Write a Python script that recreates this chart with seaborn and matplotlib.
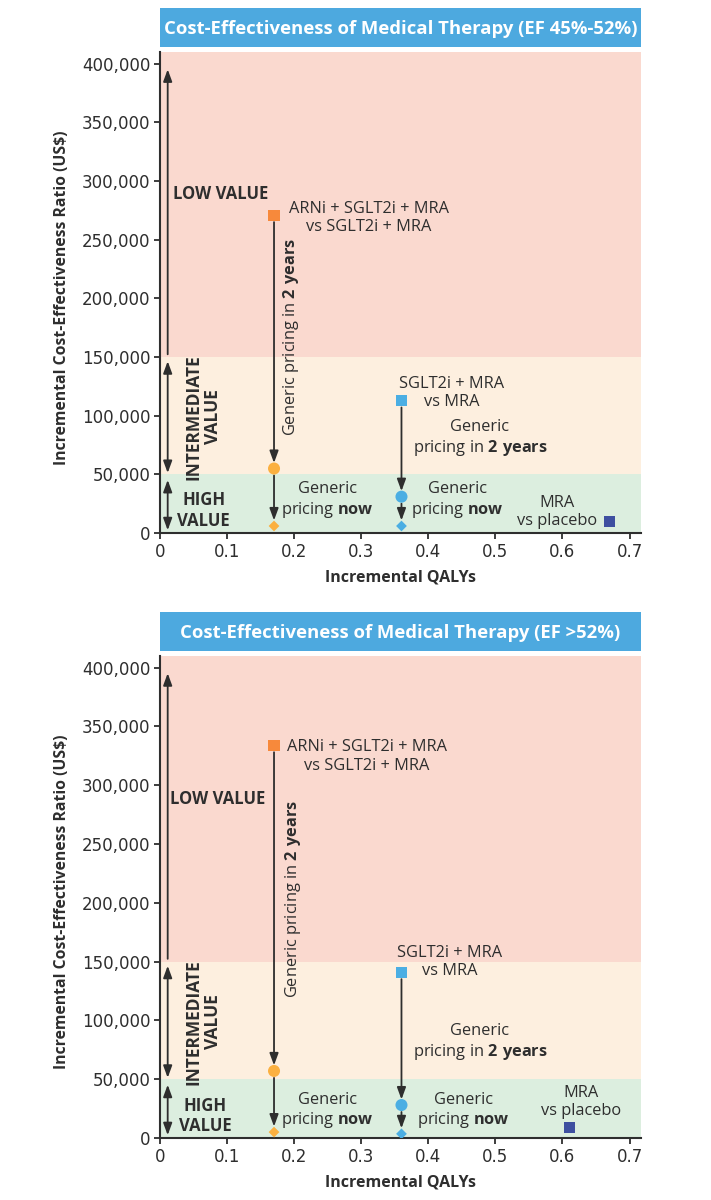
import numpy as np
import pandas as pd
import seaborn as sns
import matplotlib.pyplot as plt
from matplotlib.ticker import FuncFormatter

# panel titles
titles = ['Cost-Effectiveness of Medical Therapy (EF 45%-52%)',
          'Cost-Effectiveness of Medical Therapy (EF >52%)']

# therapies: ARNi + SGLT2i + MRA, SGLT2i + MRA, MRA
qaly_mid = [0.17, 0.36, 0.67]
icer_mid_brand = [271000, 113000, 10000]
icer_mid_2yr = [55000, 31000]
icer_mid_now = [6000, 6000]

qaly_pres = [0.17, 0.36, 0.61]
icer_pres_brand = [334000, 141000, 9000]
icer_pres_2yr = [57000, 28000]
icer_pres_now = [5000, 3500]

band_edges = [0, 50000, 150000, 410000]
band_colors = ['#dceedf', '#fdefdf', '#fad9cf']
y_ticks = [0, 50000, 100000, 150000, 200000, 250000, 300000, 350000, 400000]
x_ticks = [0, 0.1, 0.2, 0.3, 0.4, 0.5, 0.6, 0.7]

brand_colors = ['#f7893b', '#4baee3', '#3e4fa0']
generic_colors = ['#fbb040', '#4baee3']

sns.set_style('ticks')
plt.rcParams['font.family'] = ['Open Sans', 'DejaVu Sans']
plt.rcParams['mathtext.fontset'] = 'custom'
plt.rcParams['mathtext.rm'] = 'Open Sans'
plt.rcParams['mathtext.bf'] = 'Open Sans:bold'

ink = '#2e2e2e'
arrow_kw = dict(arrowstyle='-|>,head_length=0.6,head_width=0.22', color=ink, lw=1.3,
                mutation_scale=12)
dbl_kw = dict(arrowstyle='<|-|>,head_length=0.6,head_width=0.22', color=ink, lw=1.3,
              mutation_scale=12)

fig = plt.figure(figsize=(7.11, 12), dpi=100, facecolor='white')


def draw_panel(ax, qaly, brand, gen2, now, labels):
    for lo, hi, c in zip(band_edges[:-1], band_edges[1:], band_colors):
        ax.axhspan(lo, hi, color=c, lw=0, zorder=0)

    # value band arrows
    xa = 0.0115
    ax.annotate('', xy=(xa, 400000), xytext=(xa, 150000),
                arrowprops=dict(shrinkA=2, shrinkB=4, **arrow_kw), zorder=3)
    ax.annotate('', xy=(xa, 50000), xytext=(xa, 150000),
                arrowprops=dict(shrinkA=3, shrinkB=1, **dbl_kw), zorder=3)
    ax.annotate('', xy=(xa, 0), xytext=(xa, 50000),
                arrowprops=dict(shrinkA=4, shrinkB=2, **dbl_kw), zorder=3)

    # price drop arrows
    for i in range(2):
        ax.annotate('', xy=(qaly[i], gen2[i]), xytext=(qaly[i], brand[i]),
                    arrowprops=dict(shrinkA=5, shrinkB=4, **arrow_kw), zorder=3)
        ax.annotate('', xy=(qaly[i], now[i]), xytext=(qaly[i], gen2[i]),
                    arrowprops=dict(shrinkA=5, shrinkB=4, **arrow_kw), zorder=3)

    df_brand = pd.DataFrame({'qaly': qaly, 'icer': brand})
    df_gen = pd.DataFrame({'qaly': qaly[:2], 'icer2': gen2, 'icer0': now})
    sns.scatterplot(data=df_brand, x='qaly', y='icer', marker='s', s=64,
                    hue=df_brand.index.astype(str), palette=brand_colors,
                    edgecolor='none', legend=False, ax=ax, zorder=4)
    sns.scatterplot(data=df_gen, x='qaly', y='icer2', marker='o', s=75,
                    hue=df_gen.index.astype(str), palette=generic_colors,
                    edgecolor='none', legend=False, ax=ax, zorder=4)
    sns.scatterplot(data=df_gen, x='qaly', y='icer0', marker='D', s=30,
                    hue=df_gen.index.astype(str), palette=generic_colors,
                    edgecolor='none', legend=False, ax=ax, zorder=4)

    for txt, x, y, kw in labels:
        ax.text(x, y, txt, color=ink, zorder=5, **kw)

    ax.set_xlim(0, 0.717)
    ax.set_ylim(0, 410000)
    ax.set_xticks(x_ticks)
    ax.set_yticks(y_ticks)
    ax.xaxis.set_major_formatter(FuncFormatter(lambda v, p: '0' if v == 0 else f'{v:.1f}'))
    ax.yaxis.set_major_formatter(FuncFormatter(lambda v, p: f'{v:,.0f}'))
    for lab in ax.get_xticklabels() + ax.get_yticklabels():
        lab.set_fontfamily('DejaVu Sans')
        lab.set_fontsize(12)
        lab.set_color(ink)
    ax.tick_params(length=4, width=1.3, color=ink, pad=3)
    sns.despine(ax=ax)
    for s in ['left', 'bottom']:
        ax.spines[s].set_color(ink)
        ax.spines[s].set_linewidth(1.5)
    ax.set_xlabel('Incremental QALYs', fontsize=11.5, fontweight='bold', color=ink, labelpad=6)
    ax.set_ylabel('Incremental Cost-Effectiveness Ratio (US$)', fontsize=11.3,
                  fontweight='bold', color=ink)
    ax.yaxis.set_label_coords(-0.188, 0.49)


def add_banner(rect, title):
    bx = fig.add_axes(rect)
    bx.set_facecolor('#4da9df')
    bx.set_xticks([])
    bx.set_yticks([])
    for s in bx.spines.values():
        s.set_visible(False)
    bx.text(0.5, 0.47, title, ha='center', va='center', color='white',
            fontsize=13.3, fontweight='bold', transform=bx.transAxes)


reg = dict(fontsize=11.8, ha='center', va='center', linespacing=1.2)
bold = dict(fontsize=12, ha='center', va='center', fontweight='bold', linespacing=1.2)
rot = dict(fontsize=11.8, ha='center', va='center', rotation=90)
rotb = dict(fontsize=12.5, ha='center', va='center', rotation=90, fontweight='bold',
            linespacing=1.1)

labels_mid = [
    ('LOW VALUE', 0.020, 289000, dict(bold, ha='left')),
    ('INTERMEDIATE\nVALUE', 0.064, 99000, rotb),
    ('HIGH\nVALUE', 0.065, 19500, bold),
    ('ARNi + SGLT2i + MRA\nvs SGLT2i + MRA', 0.311, 268500, reg),
    (r'Generic pricing in $\mathbf{2\ years}$', 0.196, 167500, rot),
    ('SGLT2i + MRA\nvs MRA', 0.435, 119600, reg),
    ('Generic\npricing in $\\mathbf{2\\ years}$', 0.477, 80800, reg),
    ('Generic\npricing $\\mathbf{now}$', 0.250, 28000, reg),
    ('Generic\npricing $\\mathbf{now}$', 0.444, 28000, reg),
    ('MRA\nvs placebo', 0.592, 17900, reg),
]
labels_pres = [
    ('LOW VALUE', 0.0145, 288000, dict(bold, ha='left')),
    ('INTERMEDIATE\nVALUE', 0.064, 98600, rotb),
    ('HIGH\nVALUE', 0.067, 18700, bold),
    ('ARNi + SGLT2i + MRA\nvs SGLT2i + MRA', 0.308, 324600, reg),
    (r'Generic pricing in $\mathbf{2\ years}$', 0.199, 203600, rot),
    ('SGLT2i + MRA\nvs MRA', 0.432, 149800, reg),
    ('Generic\npricing in $\\mathbf{2\\ years}$', 0.477, 81000, reg),
    ('Generic\npricing $\\mathbf{now}$', 0.250, 23000, reg),
    ('Generic\npricing $\\mathbf{now}$', 0.452, 23000, reg),
    ('MRA\nvs placebo', 0.627, 30500, reg),
]

ax1 = fig.add_axes([0.2250, 0.5558, 0.6765, 0.4008])
draw_panel(ax1, qaly_mid, icer_mid_brand, icer_mid_2yr, icer_mid_now, labels_mid)
add_banner([0.2250, 0.9608, 0.6765, 0.0325], titles[0])

ax2 = fig.add_axes([0.2250, 0.0517, 0.6765, 0.4017])
draw_panel(ax2, qaly_pres, icer_pres_brand, icer_pres_2yr, icer_pres_now, labels_pres)
add_banner([0.2250, 0.4575, 0.6765, 0.0325], titles[1])

plt.savefig('out.png', dpi=100, facecolor='white')
plt.close()
